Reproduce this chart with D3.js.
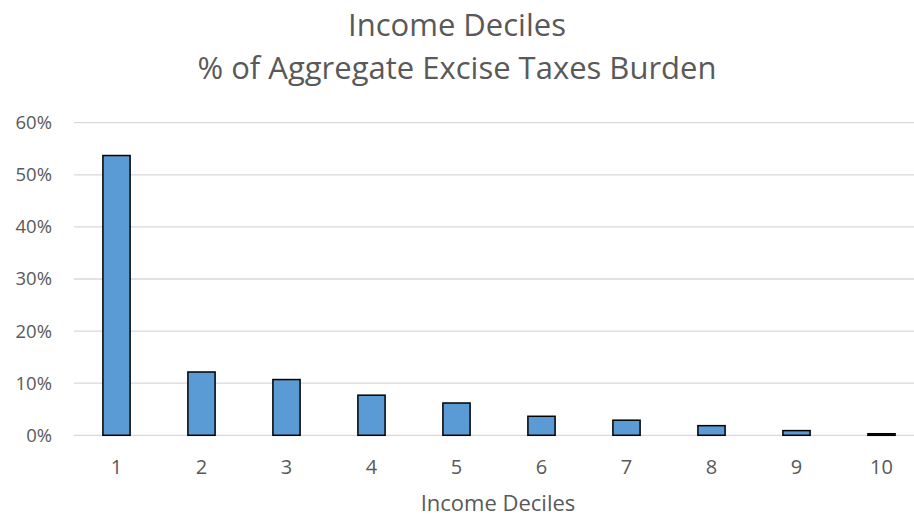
<!DOCTYPE html>
<html><head><meta charset="utf-8">
<script src="https://cdn.jsdelivr.net/npm/d3@7"></script>
<style>body{margin:0;background:#fff}svg{display:block}</style>
</head><body>
<script>
const categories = ["1","2","3","4","5","6","7","8","9","10"];
const values = [0.537, 0.1215, 0.107, 0.077, 0.062, 0.0365, 0.029, 0.0185, 0.009, 0.003];
const yTicks = [0, 0.1, 0.2, 0.3, 0.4, 0.5, 0.6];
const titleLines = ["Income Deciles", "% of Aggregate Excise Taxes Burden"];
const xTitle = "Income Deciles";

const W = 914, H = 518;
const font = "'Open Sans', 'Noto Sans', sans-serif";
const svg = d3.select("body").append("svg").attr("width", W).attr("height", H);

const x = d3.scaleBand().domain(categories).range([74, 924]).paddingInner(0.68).paddingOuter(0.34);
const y = d3.scaleLinear().domain([0, 0.6]).range([435.3, 122.7]);

// gridlines
svg.append("g").selectAll("line").data(yTicks).join("line")
  .attr("x1", 74).attr("x2", W)
  .attr("y1", d => y(d)).attr("y2", d => y(d))
  .attr("stroke", "#d9d9d9").attr("stroke-width", 1.3);

// y labels
const yAxis = d3.axisLeft(y).tickValues(yTicks).tickFormat(d3.format(".0%")).tickSize(0).tickPadding(0);
const ya = svg.append("g").attr("transform", "translate(52,0)").call(yAxis);
ya.select(".domain").remove();
ya.selectAll("text").attr("font-family", font).attr("font-size", 18.5).attr("fill", "#595959");

// bars
svg.append("g").selectAll("rect").data(values).join("rect")
  .attr("x", (d, i) => x(categories[i]))
  .attr("width", x.bandwidth())
  .attr("y", d => y(d))
  .attr("height", d => y(0) - y(d))
  .attr("fill", "#5b9bd5").attr("stroke", "#000").attr("stroke-width", 1.5);

// x labels
const xAxis = d3.axisBottom(x).tickSize(0).tickPadding(0);
const xa = svg.append("g").attr("transform", `translate(0,${y(0)})`).call(xAxis);
xa.select(".domain").remove();
xa.selectAll("text").attr("font-family", font).attr("font-size", 20).attr("fill", "#595959")
  .attr("dy", null).attr("y", 474 - y(0));

// titles
svg.append("g").selectAll("text").data(titleLines).join("text")
  .attr("x", W / 2).attr("y", (d, i) => 36 + i * 43)
  .attr("text-anchor", "middle").attr("font-family", font).attr("font-size", 31)
  .attr("fill", "#595959").text(d => d);

svg.append("text").attr("x", 498).attr("y", 511).attr("text-anchor", "middle")
  .attr("font-family", font).attr("font-size", 22).attr("fill", "#595959").text(xTitle);
</script>
</body></html>
